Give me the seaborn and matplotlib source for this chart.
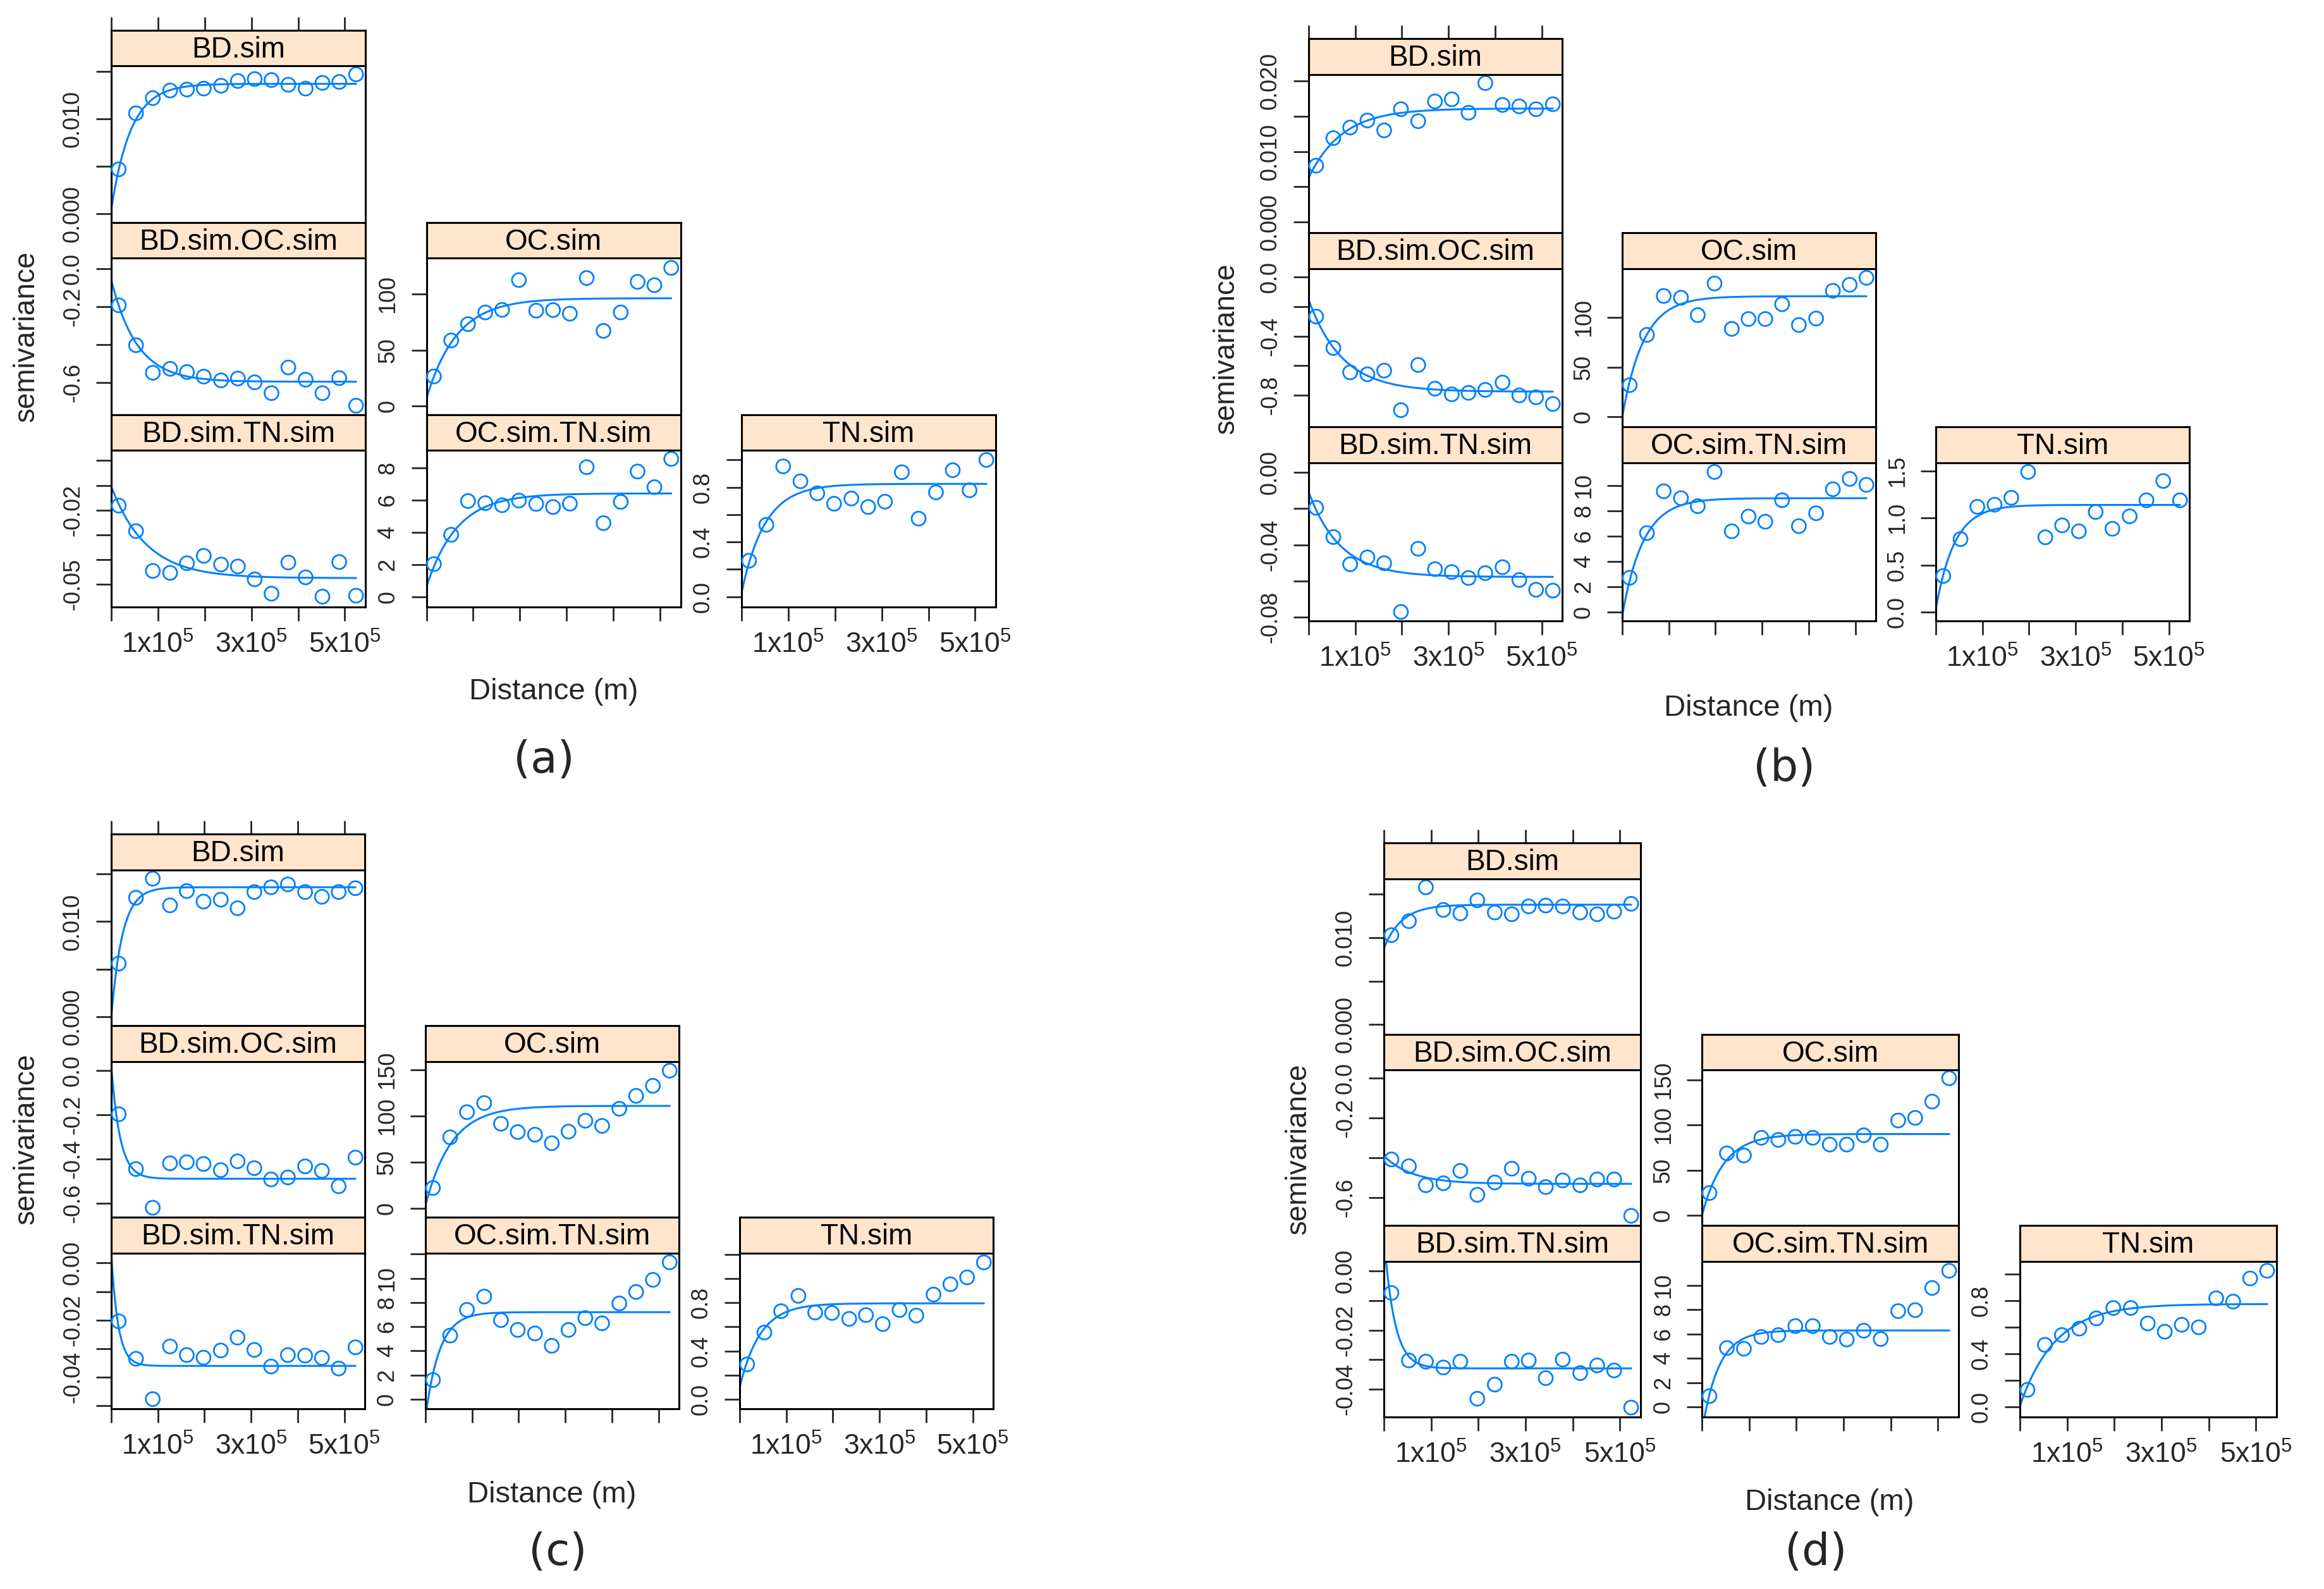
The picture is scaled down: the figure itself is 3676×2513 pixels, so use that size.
import numpy as np
import pandas as pd
import matplotlib
matplotlib.use("Agg")
import matplotlib.pyplot as plt
import seaborn as sns

# lag distances (m), shared by every sample variogram
dist = [16000, 53000, 89000, 126000, 162000, 198000, 235000, 271000,
        307000, 343000, 379000, 416000, 452000, 488000, 524000]

names = ["BD.sim", "BD.sim.OC.sim", "BD.sim.TN.sim",
         "OC.sim", "OC.sim.TN.sim", "TN.sim"]

x_ticklabels = ["", r"$\mathregular{1x10^5}$", "", r"$\mathregular{3x10^5}$",
                "", r"$\mathregular{5x10^5}$"]

# ---------------- (a) ----------------
a_bd = [0.0047, 0.0106, 0.0122, 0.0130, 0.0131, 0.0132, 0.0135, 0.0140,
        0.0142, 0.0141, 0.0136, 0.0132, 0.0138, 0.0139, 0.0147]
a_bd_oc = [-0.193, -0.403, -0.548, -0.527, -0.544, -0.568, -0.588, -0.578,
           -0.598, -0.655, -0.520, -0.584, -0.655, -0.576, -0.721]
a_bd_tn = [-0.0182, -0.0285, -0.0446, -0.0454, -0.0415, -0.0385, -0.0420, -0.0428,
           -0.0480, -0.0538, -0.0412, -0.0472, -0.0550, -0.0410, -0.0546]
a_oc = [26.5, 58.5, 73.0, 83.4, 85.7, 112.2, 85.0, 85.5, 82.3, 114.0, 67.0,
        83.4, 110.6, 107.6, 123.0]
a_oc_tn = [2.02, 3.84, 5.93, 5.80, 5.67, 5.96, 5.75, 5.56, 5.77, 8.03, 4.56,
           5.88, 7.76, 6.79, 8.54]
a_tn = [0.263, 0.526, 0.953, 0.844, 0.756, 0.680, 0.718, 0.656, 0.695, 0.910,
        0.571, 0.763, 0.925, 0.778, 1.000]
# fitted exponential models (same order as names)
a_nugget = [0.0005, -0.06, -0.0105, 7.0, 0.6, 0.03]
a_psill = [0.0132, -0.535, -0.037, 89.0, 5.8, 0.795]
a_range = [42000, 55000, 75000, 65000, 65000, 50000]
a_yticks = [[0, 0.005, 0.01, 0.015], [-0.6, -0.4, -0.2, 0.0],
            [-0.05, -0.04, -0.03, -0.02, -0.01, 0.0], [0, 50, 100],
            [0, 2, 4, 6, 8], [0, 0.2, 0.4, 0.6, 0.8, 1.0]]
a_ylabels = [["0.000", "", "0.010", ""], ["-0.6", "", "-0.2", "0.0"],
             ["-0.05", "", "", "-0.02", "", ""], ["0", "50", "100"],
             ["0", "2", "4", "6", "8"], ["0.0", "", "0.4", "", "0.8", ""]]

# ---------------- (b) ----------------
b_bd = [0.0080, 0.0119, 0.0134, 0.0144, 0.0130, 0.0160, 0.0143, 0.0171,
        0.0174, 0.0155, 0.0197, 0.0166, 0.0164, 0.0160, 0.0167]
b_bd_oc = [-0.268, -0.480, -0.645, -0.658, -0.633, -0.900, -0.595, -0.755,
           -0.793, -0.783, -0.763, -0.713, -0.800, -0.813, -0.858]
b_bd_tn = [-0.0195, -0.0357, -0.0508, -0.0470, -0.0502, -0.0772, -0.0422, -0.0535,
           -0.0551, -0.0584, -0.0557, -0.0524, -0.0595, -0.0649, -0.0654]
b_oc = [31.9, 82.3, 121.3, 119.5, 102.1, 133.8, 88.3, 98.2, 98.2, 113.0, 92.2,
        98.7, 126.5, 132.5, 139.5]
b_oc_tn = [2.70, 6.24, 9.55, 9.00, 8.37, 11.08, 6.38, 7.55, 7.14, 8.84, 6.79,
           7.81, 9.71, 10.53, 10.06]
b_tn = [0.383, 0.776, 1.120, 1.142, 1.216, 1.491, 0.795, 0.922, 0.859, 1.065,
        0.886, 1.018, 1.189, 1.395, 1.189]
b_nugget = [0.0063, -0.155, -0.0108, 0.0, -0.3, 0.03]
b_psill = [0.0098, -0.62, -0.047, 121.0, 9.3, 1.11]
b_range = [72000, 72000, 68000, 46000, 45000, 40000]
b_yticks = [[0, 0.005, 0.01, 0.015, 0.02], [-0.8, -0.6, -0.4, -0.2, 0.0],
            [-0.08, -0.06, -0.04, -0.02, 0.0], [0, 50, 100],
            [0, 2, 4, 6, 8, 10], [0, 0.5, 1.0, 1.5]]
b_ylabels = [["0.000", "", "0.010", "", "0.020"], ["-0.8", "", "-0.4", "", "0.0"],
             ["-0.08", "", "-0.04", "", "0.00"], ["0", "50", "100"],
             ["0", "2", "4", "6", "8", "10"], ["0.0", "0.5", "1.0", "1.5"]]

# ---------------- (c) ----------------
c_bd = [0.0056, 0.0125, 0.0145, 0.0117, 0.0132, 0.0121, 0.0123, 0.0114,
        0.0131, 0.0136, 0.0139, 0.0131, 0.0126, 0.0131, 0.0135]
c_bd_oc = [-0.198, -0.446, -0.621, -0.420, -0.415, -0.423, -0.451, -0.411,
           -0.442, -0.493, -0.484, -0.434, -0.454, -0.524, -0.394]
c_bd_tn = [-0.0204, -0.0335, -0.0476, -0.0292, -0.0322, -0.0331, -0.0306, -0.0261,
           -0.0304, -0.0362, -0.0322, -0.0324, -0.0332, -0.0369, -0.0295]
c_oc = [21.9, 76.9, 104.2, 114.1, 91.6, 82.6, 79.8, 70.5, 83.1, 94.9, 89.3,
        107.9, 121.9, 132.8, 149.2]
c_oc_tn = [1.59, 5.27, 7.39, 8.49, 6.54, 5.73, 5.44, 4.42, 5.73, 6.71, 6.28,
           7.92, 8.87, 9.87, 11.32]
c_tn = [0.289, 0.553, 0.730, 0.857, 0.719, 0.715, 0.666, 0.698, 0.623, 0.740,
        0.694, 0.868, 0.953, 1.010, 1.134]
c_nugget = [0.0, 0.02, 0.003, 3.0, -1.5, 0.1]
c_psill = [0.0136, -0.51, -0.039, 108.0, 8.7, 0.695]
c_range = [24000, 19000, 15000, 56000, 30000, 44000]
c_yticks = [[0, 0.005, 0.01, 0.015], [-0.6, -0.4, -0.2, 0.0],
            [-0.05, -0.04, -0.03, -0.02, -0.01, 0.0], [0, 50, 100, 150],
            [0, 2, 4, 6, 8, 10, 12], [0, 0.2, 0.4, 0.6, 0.8, 1.0, 1.2]]
c_ylabels = [["0.000", "", "0.010", ""], ["-0.6", "-0.4", "-0.2", "0.0"],
             ["", "-0.04", "", "-0.02", "", "0.00"], ["0", "50", "100", "150"],
             ["0", "2", "4", "6", "8", "10", ""],
             ["0.0", "", "0.4", "", "0.8", "", ""]]

# ---------------- (d) ----------------
d_bd = [0.0103, 0.0119, 0.0158, 0.0132, 0.0128, 0.0143, 0.0129, 0.0127,
        0.0136, 0.0137, 0.0136, 0.0129, 0.0127, 0.0130, 0.0139]
d_bd_oc = [-0.408, -0.442, -0.537, -0.527, -0.465, -0.585, -0.523, -0.454,
           -0.504, -0.546, -0.513, -0.537, -0.508, -0.508, -0.690]
d_bd_tn = [-0.0074, -0.0303, -0.0307, -0.0327, -0.0307, -0.0433, -0.0385, -0.0307,
           -0.0303, -0.0363, -0.0300, -0.0346, -0.0320, -0.0337, -0.0463]
d_oc = [24.9, 68.7, 66.4, 85.9, 83.6, 87.0, 85.9, 78.4, 78.4, 88.7, 78.4,
        105.0, 107.9, 125.9, 151.7]
d_oc_tn = [0.91, 4.86, 4.80, 5.77, 5.92, 6.66, 6.66, 5.77, 5.56, 6.28, 5.60,
           7.89, 7.97, 9.79, 11.20]
d_tn = [0.130, 0.468, 0.542, 0.590, 0.667, 0.745, 0.745, 0.629, 0.567, 0.619,
        0.600, 0.818, 0.793, 0.967, 1.025]
d_nugget = [0.0088, -0.39, 0.012, 0.0, -2.0, 0.01]
d_psill = [0.005, -0.14, -0.045, 90.0, 8.3, 0.765]
d_range = [38000, 60000, 22000, 46000, 35000, 75000]
d_yticks = [[0, 0.005, 0.01, 0.015], [-0.6, -0.4, -0.2, 0.0],
            [-0.04, -0.03, -0.02, -0.01, 0.0], [0, 50, 100, 150],
            [0, 2, 4, 6, 8, 10], [0, 0.2, 0.4, 0.6, 0.8, 1.0]]
d_ylabels = [["0.000", "", "0.010", ""], ["-0.6", "", "-0.2", "0.0"],
             ["-0.04", "", "-0.02", "", "0.00"], ["0", "50", "100", "150"],
             ["0", "2", "4", "6", "8", "10"], ["0.0", "", "0.4", "", "0.8", ""]]

# ---------------- layout (pixels) ----------------
W, H = 3676, 2513
BLUE = "#0080ff"
STRIP = "#ffe5cc"
XMAX = 544000
rows = [0, 1, 2, 1, 2, 2]
cols = [0, 0, 0, 1, 1, 2]

blocks = {
    "a": dict(x0=176, pitch=498.5, w=402, y0=48, strip=56, panel=248,
              ylims=[(-0.0009, 0.0156), (-0.769, 0.056), (-0.0592, 0.0042),
                     (-7.6, 131.8), (-0.64, 9.08), (-0.075, 1.071)],
              ylab=(42, 532), xlab=(876, 1094), tag=(860, 1203)),
    "b": dict(x0=2070, pitch=496, w=401, y0=61, strip=57, panel=250,
              ylims=[(-0.0015, 0.0209), (-1.0125, 0.055), (-0.0822, 0.0054),
                     (-9.9, 148.6), (-0.72, 11.8), (-0.096, 1.588)],
              ylab=(1940, 551), xlab=(2766, 1120), tag=(2822, 1215)),
    "c": dict(x0=176, pitch=497, w=401, y0=1319, strip=57, panel=246,
              ylims=[(-0.0009, 0.0154), (-0.664, 0.04), (-0.051, 0.0034),
                     (-9.8, 159.0), (-0.79, 12.07), (-0.079, 1.21)],
              ylab=(42, 1801), xlab=(873, 2364), tag=(882, 2455)),
    "d": dict(x0=2189, pitch=503, w=406, y0=1333, strip=56.5, panel=246,
              ylims=[(-0.0011, 0.0168), (-0.738, 0.04), (-0.0494, 0.0034),
                     (-10.9, 160.9), (-0.78, 11.99), (-0.072, 1.097)],
              ylab=(2054, 1817), xlab=(2894, 2376), tag=(2872, 2455)),
}

series = {
    "a": ([a_bd, a_bd_oc, a_bd_tn, a_oc, a_oc_tn, a_tn], a_nugget, a_psill, a_range, a_yticks, a_ylabels),
    "b": ([b_bd, b_bd_oc, b_bd_tn, b_oc, b_oc_tn, b_tn], b_nugget, b_psill, b_range, b_yticks, b_ylabels),
    "c": ([c_bd, c_bd_oc, c_bd_tn, c_oc, c_oc_tn, c_tn], c_nugget, c_psill, c_range, c_yticks, c_ylabels),
    "d": ([d_bd, d_bd_oc, d_bd_tn, d_oc, d_oc_tn, d_tn], d_nugget, d_psill, d_range, d_yticks, d_ylabels),
}

sns.set_style("white")
plt.rcParams["font.family"] = ["Liberation Sans", "DejaVu Sans"]
plt.rcParams["mathtext.fontset"] = "custom"
plt.rcParams["mathtext.rm"] = "Liberation Sans"

fig = plt.figure(figsize=(W / 100, H / 100), dpi=100)


def px(x, y, w, h):
    return [x / W, 1 - (y + h) / H, w / W, h / H]


def style_frame(ax):
    for sp in ax.spines.values():
        sp.set_visible(True)
        sp.set_linewidth(2.2)
        sp.set_color("black")


h_grid = np.linspace(0, dist[-1], 400)

for tag, blk in blocks.items():
    vals, nug, psill, rng, yticks, ylabels = series[tag]
    for i, name in enumerate(names):
        r, c = rows[i], cols[i]
        left = blk["x0"] + c * blk["pitch"]
        strip_top = blk["y0"] + r * (blk["strip"] + blk["panel"])
        panel_top = strip_top + blk["strip"]

        ax = fig.add_axes(px(left, panel_top, blk["w"], blk["panel"]))
        df = pd.DataFrame({"dist": dist, "gamma": vals[i]})
        model = pd.DataFrame({"dist": h_grid,
                              "gamma": nug[i] + psill[i] * (1 - np.exp(-h_grid / rng[i]))})
        sns.lineplot(data=model, x="dist", y="gamma", ax=ax, color=BLUE,
                     linewidth=2.2, sort=False, estimator=None)
        sns.scatterplot(data=df, x="dist", y="gamma", ax=ax, s=250, marker="o",
                        facecolors="none", edgecolor=BLUE, linewidth=2.0,
                        clip_on=False, zorder=3)
        pts = ax.collections[-1]
        pts.set_facecolor("none")
        pts.set_edgecolor(BLUE)

        ax.set_xlim(0, XMAX)
        ax.set_ylim(*blk["ylims"][i])
        ax.set_xlabel("")
        ax.set_ylabel("")
        ax.set_facecolor("white")
        style_frame(ax)

        ax.set_yticks(yticks[i])
        ax.set_yticklabels(ylabels[i], rotation=90, va="center")
        ax.tick_params(axis="y", left=True, right=False, direction="out",
                       length=17, width=2, pad=14, labelsize=26)
        ax.set_xticks([0, 100000, 200000, 300000, 400000, 500000])
        if r == 2:
            ax.tick_params(axis="x", bottom=True, top=False, direction="out",
                           length=16, width=2, pad=12, labelsize=32,
                           labelbottom=(c != 1))
            if c != 1:
                ax.set_xticklabels(x_ticklabels)
        else:
            ax.tick_params(axis="x", bottom=False, labelbottom=False)

        sax = fig.add_axes(px(left, strip_top, blk["w"], blk["strip"]))
        sax.set_facecolor(STRIP)
        style_frame(sax)
        sax.set_yticks([])
        sax.set_xlim(0, XMAX)
        if r == 0 and c == 0:
            sax.set_xticks([0, 100000, 200000, 300000, 400000, 500000])
            sax.tick_params(axis="x", top=True, bottom=False, labeltop=False,
                            labelbottom=False, direction="out", length=15, width=2)
        else:
            sax.set_xticks([])
        sax.text(0.5, 0.45, name, transform=sax.transAxes, ha="center",
                 va="center", fontsize=33, color="black")

    fig.text(blk["ylab"][0] / W, 1 - blk["ylab"][1] / H, "semivariance",
             rotation=90, ha="center", va="center", fontsize=33)
    fig.text(blk["xlab"][0] / W, 1 - blk["xlab"][1] / H, "Distance (m)",
             ha="center", va="center", fontsize=34)
    fig.text(blk["tag"][0] / W, 1 - blk["tag"][1] / H, "(" + tag + ")",
             ha="center", va="center", fontsize=50, family="DejaVu Sans")

fig.savefig("out.png", dpi=100, facecolor="white")
